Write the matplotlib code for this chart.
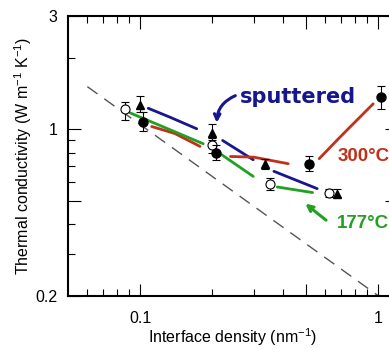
import numpy as np
import matplotlib
matplotlib.use('Agg')
import matplotlib.pyplot as plt
from matplotlib.ticker import FixedLocator, NullFormatter

plt.rcParams['font.family'] = ['Liberation Sans', 'DejaVu Sans']
plt.rcParams['mathtext.default'] = 'regular'

# 数据点 (界面密度 nm^-1, 热导率 W/m/K)
filled_x = [0.103, 0.209, 0.513, 1.023]
filled_y = [1.073, 0.798, 0.718, 1.366]
filled_lo = [0.984, 0.741, 0.669, 1.22]
filled_hi = [1.19, 0.86, 0.77, 1.53]

open_x = [0.0865, 0.201, 0.351, 0.621]
open_y = [1.22, 0.857, 0.592, 0.543]
open_lo = [1.098, 0.80, 0.558, 0.52]
open_hi = [1.31, 0.92, 0.627, 0.56]

tri_x = [0.1, 0.2, 0.335, 0.673]
tri_y = [1.27, 0.969, 0.715, 0.537]
tri_lo = [1.18, 0.90, 0.68, 0.52]
tri_hi = [1.38, 1.05, 0.75, 0.56]

# 虚线 y = a * x^b
limit_a = 0.2
limit_b = -0.72
limit_x = [0.0601, 1.0]

# 手绘趋势线
blue_segs = [([0.1083, 0.1337, 0.173], [1.228, 1.126, 1.007]),
             ([0.2223, 0.2988], [0.899, 0.746]),
             ([0.365, 0.5546], [0.667, 0.564])]
red_segs = [([0.112, 0.140, 0.1786], [1.029, 0.962, 0.849]),
            ([0.240, 0.30, 0.419], [0.770, 0.765, 0.718]),
            ([0.5655, 0.691, 0.953], [0.754, 0.928, 1.282])]
green_segs = [([0.0908, 0.1843], [1.175, 0.871]),
              ([0.2203, 0.2988], [0.783, 0.635]),
              ([0.377, 0.5305], [0.573, 0.543])]

BLUE = '#16168f'
RED = '#c0301a'
GREEN = '#22a022'
HAND = ['Liberation Sans Narrow', 'Liberation Sans', 'DejaVu Sans']

fig = plt.figure(figsize=(3.89, 3.49), dpi=100)
ax = fig.add_axes([0.1756, 0.1527, 0.845, 0.8014])
ax.set_xscale('log')
ax.set_yscale('log')
ax.set_xlim(0.05, 1.2)
ax.set_ylim(0.2, 3)

# 虚线
lx = np.geomspace(limit_x[0], limit_x[1], 50)
ax.plot(lx, limit_a * lx ** limit_b, color='#555555', lw=1, dashes=(9, 6), zorder=1)

for xs, ys in blue_segs:
    ax.plot(xs, ys, color=BLUE, lw=2, solid_capstyle='round', zorder=2)
for xs, ys in red_segs:
    ax.plot(xs, ys, color=RED, lw=2, solid_capstyle='round', zorder=2)
for xs, ys in green_segs:
    ax.plot(xs, ys, color=GREEN, lw=2, solid_capstyle='round', zorder=2)

def errs(y, lo, hi):
    y = np.array(y)
    return [y - np.array(lo), np.array(hi) - y]

ax.errorbar(open_x, open_y, yerr=errs(open_y, open_lo, open_hi), fmt='o', ms=6.5,
            mfc='white', mec='black', mew=0.8, ecolor='black', elinewidth=0.8, capsize=3, capthick=0.8, zorder=3)
ax.errorbar(tri_x, tri_y, yerr=errs(tri_y, tri_lo, tri_hi), fmt='^', ms=6,
            mfc='black', mec='black', ecolor='black', elinewidth=0.8, capsize=3, capthick=0.8, zorder=4)
ax.errorbar(filled_x, filled_y, yerr=errs(filled_y, filled_lo, filled_hi), fmt='o', ms=6.5,
            mfc='black', mec='black', ecolor='black', elinewidth=0.8, capsize=3, capthick=0.8, zorder=4)

# 手写标注
ax.text(0.46, 1.375, 'sputtered', color=BLUE, fontsize=15, fontweight='bold',
        family='DejaVu Sans', ha='center', va='center')
ax.text(0.677, 0.77, '300°C', color=RED, fontsize=13.5, fontweight='bold',
        family=HAND, ha='left', va='center')
ax.text(0.671, 0.403, '177°C', color=GREEN, fontsize=13.5, fontweight='bold',
        family=HAND, ha='left', va='center')
ax.annotate('', xy=(0.2099, 1.039), xytext=(0.2577, 1.402),
            arrowprops=dict(arrowstyle='->', color=BLUE, lw=2.2,
                            connectionstyle='arc3,rad=0.35'))
ax.annotate('', xy=(0.4845, 0.4957), xytext=(0.617, 0.4087),
            arrowprops=dict(arrowstyle='->', color=GREEN, lw=2.2))

# 刻度
ax.xaxis.set_major_locator(FixedLocator([0.1, 0.5, 1]))
ax.set_xticklabels(['0.1', '', '1'])
ax.xaxis.set_minor_locator(FixedLocator([0.06, 0.07, 0.08, 0.09, 0.2, 0.3, 0.4, 0.6, 0.7, 0.8, 0.9]))
ax.xaxis.set_minor_formatter(NullFormatter())
ax.yaxis.set_major_locator(FixedLocator([0.2, 0.5, 1, 3]))
ax.set_yticklabels(['0.2', '', '1', '3'])
ax.yaxis.set_minor_locator(FixedLocator([0.3, 0.4, 0.6, 0.7, 0.8, 0.9, 2]))
ax.yaxis.set_minor_formatter(NullFormatter())
ax.tick_params(which='both', direction='in', top=True, right=True, width=0.8, labelsize=11.5)
ax.tick_params(which='major', length=9)
ax.tick_params(axis='x', which='major', pad=11)
ax.tick_params(axis='y', which='major', pad=8)
ax.tick_params(which='minor', length=5)

for sp in ax.spines.values():
    sp.set_linewidth(1.5)

ax.set_xlabel('Interface density (nm$^{-1}$)', fontsize=11.5, labelpad=0)
ax.set_ylabel('Thermal conductivity (W m$^{-1}$ K$^{-1}$)', fontsize=11.5, labelpad=1)

fig.savefig('out.png', dpi=100)
